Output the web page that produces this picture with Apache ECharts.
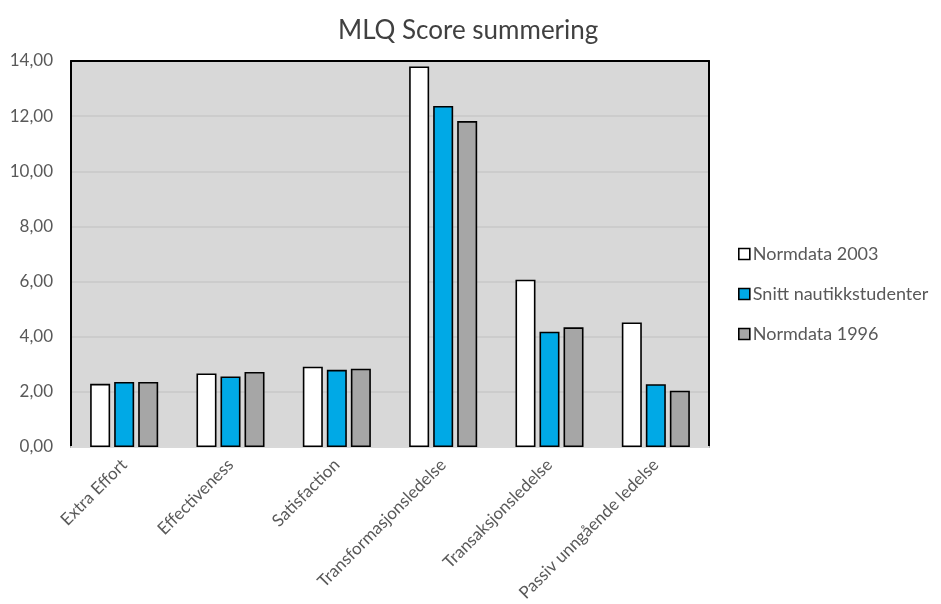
<!DOCTYPE html>
<html>
<head>
<meta charset="utf-8">
<title>MLQ Score summering</title>
<script src="https://cdn.jsdelivr.net/npm/echarts@6/dist/echarts.min.js"></script>
<style>
  html, body { margin: 0; padding: 0; background: #fff; }
  #chart { width: 941px; height: 604px; }
</style>
</head>
<body>
<div id="chart"></div>
<script>
// MLQ dimensions on the category axis
const categories = [
  'Extra Effort',
  'Effectiveness',
  'Satisfaction',
  'Transformasjonsledelse',
  'Transaksjonsledelse',
  'Passiv unngående ledelse'
];

// Scores per series
const normdata2003 = [2.29, 2.67, 2.91, 13.80, 6.07, 4.52];
const snittNautikk = [2.36, 2.56, 2.80, 12.37, 4.18, 2.28];
const normdata1996 = [2.36, 2.72, 2.84, 11.82, 4.34, 2.04];

const seriesNames = ['Normdata 2003', 'Snitt nautikkstudenter', 'Normdata 1996'];
const seriesColors = ['#ffffff', '#00a9e6', '#a6a6a6'];

// Value axis: 0,00 .. 14,00 in steps of 2
const yMin = 0;
const yMax = 14;
const yStep = 2;

const fontFamily = 'Lato, "Open Sans", sans-serif';
const textColor = '#595959';

const chart = echarts.init(document.getElementById('chart'), null, { renderer: 'canvas' });

function barSeries(name, data, color) {
  return {
    name: name,
    type: 'bar',
    data: data,
    barGap: '20%',
    barCategoryGap: '36%',
    itemStyle: { color: color, borderColor: '#000', borderWidth: 1.6 },
    emphasis: { disabled: true }
  };
}

const frameLine = { show: true, onZero: false, lineStyle: { color: '#000', width: 2 } };

chart.setOption({
  backgroundColor: '#ffffff',
  animation: false,
  textStyle: { fontFamily: fontFamily },
  title: {
    text: 'MLQ Score summering',
    left: 333,
    top: 13,
    textStyle: { fontFamily: fontFamily, fontSize: 26, fontWeight: 'normal', color: '#404040' }
  },
  legend: {
    orient: 'vertical',
    left: 733,
    top: 240,
    itemGap: 22,
    itemWidth: 11,
    itemHeight: 11,
    icon: 'rect',
    selectedMode: false,
    itemStyle: { borderColor: '#000', borderWidth: 1.6 },
    textStyle: { fontFamily: fontFamily, fontSize: 18, color: textColor, padding: [0, 0, 0, -2] },
    data: seriesNames
  },
  grid: {
    left: 71,
    top: 61,
    right: 232,
    bottom: 157,
    show: true,
    backgroundColor: '#d8d8d8',
    borderWidth: 0
  },
  xAxis: [
    {
      type: 'category',
      data: categories,
      position: 'bottom',
      axisTick: { show: false },
      axisLine: { show: true, onZero: false, lineStyle: { color: '#d9d9d9', width: 2 } },
      axisLabel: {
        rotate: 45,
        interval: 0,
        margin: 15,
        fontSize: 17,
        color: textColor,
        fontFamily: fontFamily
      }
    },
    {
      // top edge of the plot frame
      type: 'category',
      data: categories,
      position: 'top',
      axisTick: { show: false },
      axisLabel: { show: false },
      axisLine: frameLine
    }
  ],
  yAxis: [
    {
      type: 'value',
      min: yMin,
      max: yMax,
      interval: yStep,
      position: 'left',
      axisLine: frameLine,
      axisTick: { show: false },
      splitLine: { show: true, lineStyle: { color: '#c8c8c8', width: 1.5 } },
      axisLabel: {
        margin: 18,
        fontSize: 17,
        color: textColor,
        fontFamily: fontFamily,
        formatter: v => v.toFixed(2).replace('.', ',')
      }
    },
    {
      // right edge of the plot frame
      type: 'value',
      min: yMin,
      max: yMax,
      interval: yStep,
      position: 'right',
      axisLine: frameLine,
      axisTick: { show: false },
      splitLine: { show: false },
      axisLabel: { show: false }
    }
  ],
  series: [
    barSeries(seriesNames[0], normdata2003, seriesColors[0]),
    barSeries(seriesNames[1], snittNautikk, seriesColors[1]),
    barSeries(seriesNames[2], normdata1996, seriesColors[2])
  ]
});
</script>
</body>
</html>
